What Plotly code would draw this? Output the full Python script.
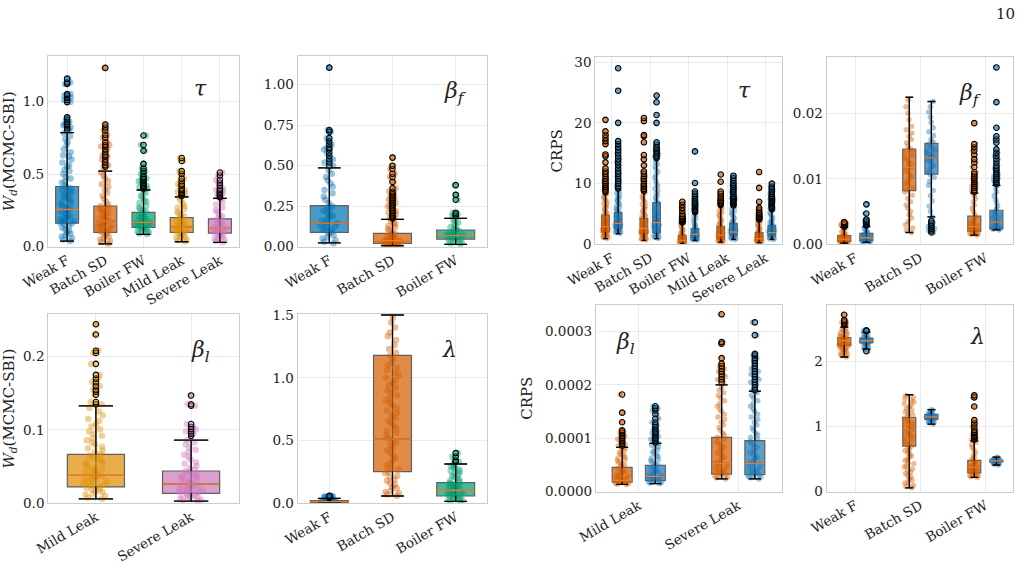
import plotly.graph_objects as go

W, H = 1024, 564
FONT = "DejaVu Serif"

# ---------------- colours ----------------
C_WEAK, C_BATCH, C_BOILER, C_MILD, C_SEVERE = "#0173b2", "#d55e00", "#029e73", "#de8f05", "#cc78bc"
C_A, C_B = "#d55e00", "#1f77b4"
MEDIAN_COLOR = "#ee7d22"

# ---------------- panel 1 : tau, W_d ----------------
P1_CATS = ["Weak F", "Batch SD", "Boiler FW", "Mild Leak", "Severe Leak"]
P1_LO = [0.039, 0.02, 0.085, 0.034, 0.03]
P1_Q1 = [0.162, 0.098, 0.133, 0.098, 0.094]
P1_MED = [0.256, 0.176, 0.167, 0.137, 0.126]
P1_Q3 = [0.414, 0.28, 0.236, 0.2, 0.192]
P1_HI = [0.785, 0.52, 0.39, 0.343, 0.332]
P1_OUT = [
    [0.805, 0.82, 0.835, 0.845, 0.86, 0.875, 0.89, 0.995, 1.01, 1.025, 1.04, 1.05, 1.12, 1.13, 1.156],
    [0.55, 0.56, 0.58, 0.6, 0.62, 0.63, 0.65, 0.67, 0.69, 0.7, 0.72, 0.75, 0.77, 0.8, 0.82, 0.84, 1.23],
    [0.4, 0.41, 0.42, 0.43, 0.44, 0.45, 0.46, 0.47, 0.48, 0.5, 0.52, 0.54, 0.57, 0.66, 0.70, 0.765],
    [0.35, 0.36, 0.37, 0.38, 0.39, 0.4, 0.42, 0.43, 0.45, 0.47, 0.5, 0.52, 0.59, 0.61],
    [0.34, 0.35, 0.36, 0.37, 0.38, 0.39, 0.4, 0.42, 0.44, 0.46, 0.49, 0.51],
]
P1_PTS = [
    [0.04, 0.05, 0.06, 0.07, 0.08, 0.09, 0.1, 0.11, 0.12, 0.13, 0.14, 0.15, 0.16, 0.165, 0.17, 0.175, 0.18, 0.19,
     0.2, 0.205, 0.21, 0.22, 0.23, 0.24, 0.25, 0.255, 0.26, 0.27, 0.28, 0.29, 0.3, 0.31, 0.32, 0.33, 0.34, 0.35,
     0.36, 0.37, 0.38, 0.39, 0.4, 0.41, 0.42, 0.44, 0.45, 0.47, 0.48, 0.5, 0.52, 0.53, 0.55, 0.56, 0.58, 0.6,
     0.62, 0.63, 0.65, 0.67, 0.7, 0.72, 0.74, 0.76, 0.78],
    [0.02, 0.03, 0.04, 0.05, 0.06, 0.07, 0.08, 0.09, 0.1, 0.105, 0.11, 0.12, 0.125, 0.13, 0.14, 0.145, 0.15,
     0.16, 0.165, 0.17, 0.18, 0.185, 0.19, 0.2, 0.21, 0.22, 0.23, 0.24, 0.25, 0.26, 0.27, 0.28, 0.29, 0.31,
     0.33, 0.35, 0.37, 0.39, 0.41, 0.43, 0.45, 0.47, 0.49, 0.51],
    [0.085, 0.09, 0.1, 0.105, 0.11, 0.115, 0.12, 0.125, 0.13, 0.135, 0.14, 0.145, 0.15, 0.155, 0.16, 0.165,
     0.17, 0.175, 0.18, 0.185, 0.19, 0.2, 0.205, 0.21, 0.22, 0.23, 0.24, 0.25, 0.26, 0.27, 0.28, 0.3, 0.31,
     0.32, 0.34, 0.35, 0.37, 0.38],
    [0.035, 0.045, 0.05, 0.06, 0.065, 0.07, 0.08, 0.085, 0.09, 0.1, 0.105, 0.11, 0.115, 0.12, 0.125, 0.13,
     0.135, 0.14, 0.145, 0.15, 0.16, 0.165, 0.17, 0.18, 0.19, 0.2, 0.21, 0.22, 0.23, 0.24, 0.26, 0.27, 0.28,
     0.3, 0.32, 0.34],
    [0.03, 0.04, 0.045, 0.055, 0.06, 0.07, 0.075, 0.08, 0.09, 0.095, 0.1, 0.105, 0.11, 0.115, 0.12, 0.125,
     0.13, 0.135, 0.14, 0.15, 0.155, 0.16, 0.17, 0.18, 0.19, 0.2, 0.21, 0.22, 0.24, 0.25, 0.27, 0.29, 0.31, 0.33],
]
P1_COLORS = [C_WEAK, C_BATCH, C_BOILER, C_MILD, C_SEVERE]
P1_YTICKS = [0.0, 0.5, 1.0]
P1_YLABELS = ["0.0", "0.5", "1.0"]

# ---------------- panel 2 : beta_f, W_d ----------------
P2_CATS = ["Weak F", "Batch SD", "Boiler FW"]
P2_LO = [0.023, 0.006, 0.014]
P2_Q1 = [0.088, 0.02, 0.047]
P2_MED = [0.146, 0.037, 0.068]
P2_Q3 = [0.253, 0.082, 0.103]
P2_HI = [0.486, 0.169, 0.175]
P2_OUT = [
    [0.5, 0.52, 0.54, 0.56, 0.58, 0.6, 0.61, 0.63, 0.65, 0.67, 0.71, 0.72, 1.105],
    [0.175, 0.18, 0.19, 0.2, 0.21, 0.22, 0.23, 0.24, 0.25, 0.26, 0.27, 0.28, 0.29, 0.3, 0.31, 0.32, 0.33, 0.34,
     0.36, 0.4, 0.43, 0.45, 0.48, 0.5, 0.55],
    [0.19, 0.2, 0.21, 0.29, 0.32, 0.38],
]
P2_PTS = [
    [0.02, 0.03, 0.04, 0.05, 0.06, 0.07, 0.08, 0.09, 0.1, 0.105, 0.11, 0.12, 0.125, 0.13, 0.14, 0.145, 0.15,
     0.16, 0.17, 0.18, 0.19, 0.2, 0.21, 0.22, 0.23, 0.24, 0.25, 0.27, 0.29, 0.31, 0.33, 0.35, 0.37, 0.39, 0.41,
     0.43, 0.45, 0.47],
    [0.005, 0.008, 0.01, 0.012, 0.014, 0.015, 0.017, 0.018, 0.02, 0.022, 0.024, 0.025, 0.027, 0.03, 0.033,
     0.035, 0.037, 0.04, 0.043, 0.045, 0.05, 0.055, 0.06, 0.065, 0.07, 0.075, 0.08, 0.09, 0.1, 0.11, 0.12,
     0.13, 0.14, 0.15, 0.16],
    [0.015, 0.02, 0.025, 0.03, 0.035, 0.04, 0.045, 0.05, 0.053, 0.055, 0.06, 0.063, 0.065, 0.07, 0.073, 0.075,
     0.08, 0.085, 0.09, 0.095, 0.1, 0.105, 0.11, 0.12, 0.13, 0.14, 0.15, 0.16, 0.17],
]
P2_COLORS = [C_WEAK, C_BATCH, C_BOILER]
P2_YTICKS = [0.0, 0.25, 0.5, 0.75, 1.0]
P2_YLABELS = ["0.00", "0.25", "0.50", "0.75", "1.00"]

# ---------------- panel 3 : tau, CRPS (orange = A, blue = B) ----------------
P3_CATS = ["Weak F", "Batch SD", "Boiler FW", "Mild Leak", "Severe Leak"]
P3A_LO = [0.93, 0.66, 0.1, 0.38, 0.27]
P3A_Q1 = [2.03, 1.76, 0.38, 0.9, 0.66]
P3A_MED = [2.9, 2.6, 0.66, 1.5, 0.93]
P3A_Q3 = [4.78, 4.23, 1.48, 2.97, 1.92]
P3A_HI = [8.35, 8.6, 3.5, 6.4, 4.0]
P3A_OUT = [
    [8.6, 8.9, 9.2, 9.5, 9.8, 10.1, 10.4, 10.8, 11.2, 11.6, 12.0, 12.5, 13.5, 14.5, 14.8, 16.5, 17.0, 17.5, 18.0, 18.6, 20.5],
    [8.8, 9.1, 9.4, 9.7, 10.0, 10.4, 10.8, 11.2, 11.6, 12.0, 13.0, 14.0, 14.7, 16.8, 17.8, 18.0, 20.3, 20.8],
    [3.6, 3.7, 3.8, 3.9, 4.0, 4.1, 4.2, 4.3, 4.5, 4.7, 5.0, 5.5, 6.0, 6.5, 7.0],
    [6.5, 6.7, 6.9, 7.1, 7.3, 7.6, 7.9, 8.3, 8.7, 10.3, 11.5],
    [4.1, 4.2, 4.3, 4.4, 4.5, 4.6, 4.8, 5.0, 5.2, 5.4, 5.7, 6.0, 7.0, 9.3, 11.9],
]
P3A_PTS = [
    [0.95, 1.1, 1.2, 1.3, 1.4, 1.5, 1.6, 1.7, 1.8, 1.9, 2.0, 2.1, 2.2, 2.3, 2.4, 2.5, 2.6, 2.7, 2.8, 2.9, 3.0,
     3.2, 3.4, 3.5, 3.7, 3.8, 4.0, 4.1, 4.3, 4.5, 4.7, 4.9, 5.1, 5.3, 5.6, 5.8, 6.1, 6.3, 6.6, 6.8, 7.1, 7.3,
     7.6, 7.8, 8.1, 8.3],
    [0.7, 0.8, 0.9, 1.0, 1.1, 1.2, 1.3, 1.4, 1.5, 1.6, 1.7, 1.8, 1.9, 2.0, 2.1, 2.2, 2.3, 2.4, 2.5, 2.6, 2.7,
     2.9, 3.0, 3.2, 3.4, 3.5, 3.7, 3.8, 4.0, 4.2, 4.4, 4.6, 4.8, 5.0, 5.3, 5.5, 5.8, 6.0, 6.3, 6.6, 6.9, 7.2,
     7.5, 7.8, 8.2, 8.5],
    [0.1, 0.15, 0.2, 0.25, 0.3, 0.35, 0.4, 0.45, 0.5, 0.55, 0.6, 0.65, 0.7, 0.75, 0.8, 0.9, 1.0, 1.1, 1.2, 1.3,
     1.4, 1.5, 1.6, 1.8, 2.0, 2.2, 2.4, 2.6, 2.9, 3.2, 3.5],
    [0.4, 0.45, 0.5, 0.6, 0.7, 0.8, 0.9, 1.0, 1.1, 1.2, 1.3, 1.4, 1.5, 1.6, 1.7, 1.8, 2.0, 2.1, 2.3, 2.5, 2.7,
     2.9, 3.1, 3.3, 3.5, 3.7, 4.0, 4.3, 4.6, 4.9, 5.2, 5.5, 5.8, 6.1, 6.3],
    [0.3, 0.35, 0.4, 0.5, 0.55, 0.6, 0.65, 0.7, 0.75, 0.8, 0.85, 0.9, 0.95, 1.0, 1.1, 1.2, 1.3, 1.4, 1.5, 1.6,
     1.7, 1.8, 1.9, 2.0, 2.2, 2.4, 2.6, 2.8, 3.0, 3.2, 3.5, 3.7, 4.0],
]
P3B_LO = [1.76, 0.93, 0.66, 0.8, 0.8]
P3B_Q1 = [2.58, 1.92, 1.2, 1.48, 1.37]
P3B_MED = [3.46, 3.57, 1.65, 2.03, 1.92]
P3B_Q3 = [5.22, 6.87, 2.58, 3.46, 3.13]
P3B_HI = [9.0, 14.0, 5.2, 6.2, 5.6]
P3B_OUT = [
    [9.2, 9.6, 10.0, 10.4, 10.8, 11.2, 11.6, 12.0, 12.5, 13.0, 13.5, 14.0, 14.5, 15.0, 15.5, 16.0, 16.5, 17.0, 20.0, 25.3, 29.0],
    [14.2, 14.5, 14.8, 15.1, 15.4, 15.7, 16.0, 16.4, 16.8, 20.0, 21.3, 23.4, 24.5],
    [5.3, 5.5, 5.7, 5.9, 6.1, 6.3, 6.5, 6.7, 6.9, 7.1, 7.4, 7.7, 8.0, 8.3, 8.7, 10.1, 15.3],
    [6.4, 6.6, 6.8, 7.0, 7.2, 7.4, 7.6, 7.8, 8.0, 8.3, 8.6, 8.9, 9.2, 9.5, 9.8, 10.1, 10.5, 10.9, 11.3],
    [5.8, 6.0, 6.2, 6.4, 6.6, 6.8, 7.0, 7.2, 7.4, 7.6, 7.8, 8.0, 8.3, 8.6, 8.9, 9.2, 9.5, 10.0],
]
P3B_PTS = [
    [1.8, 1.9, 2.0, 2.1, 2.2, 2.3, 2.4, 2.5, 2.6, 2.7, 2.8, 2.9, 3.0, 3.1, 3.2, 3.3, 3.4, 3.5, 3.6, 3.8, 4.0,
     4.2, 4.4, 4.6, 4.8, 5.0, 5.2, 5.4, 5.6, 5.8, 6.1, 6.3, 6.6, 6.8, 7.1, 7.3, 7.6, 7.8, 8.1, 8.4, 8.7, 9.0],
    [0.95, 1.1, 1.2, 1.4, 1.5, 1.7, 1.8, 2.0, 2.1, 2.3, 2.4, 2.6, 2.7, 2.9, 3.0, 3.2, 3.3, 3.5, 3.6, 3.8, 3.9,
     4.1, 4.3, 4.5, 4.7, 4.9, 5.1, 5.3, 5.6, 5.8, 6.1, 6.4, 6.7, 7.0, 7.3, 7.7, 8.0, 8.4, 8.8, 9.2, 9.6, 10.0,
     10.5, 11.0, 11.4, 11.9, 12.3, 12.8, 13.2, 13.6, 14.0],
    [0.7, 0.75, 0.8, 0.85, 0.9, 0.95, 1.0, 1.05, 1.1, 1.15, 1.2, 1.25, 1.3, 1.35, 1.4, 1.5, 1.6, 1.7, 1.8, 1.9,
     2.0, 2.1, 2.2, 2.4, 2.6, 2.8, 3.0, 3.3, 3.6, 4.0, 4.3, 4.6, 5.0],
    [0.8, 0.9, 1.0, 1.1, 1.2, 1.3, 1.4, 1.5, 1.6, 1.7, 1.8, 1.9, 2.0, 2.1, 2.2, 2.3, 2.4, 2.5, 2.6, 2.8, 3.0,
     3.2, 3.4, 3.6, 3.8, 4.0, 4.3, 4.6, 4.9, 5.2, 5.5, 5.8, 6.2],
    [0.8, 0.9, 1.0, 1.1, 1.2, 1.3, 1.4, 1.5, 1.6, 1.7, 1.8, 1.9, 2.0, 2.1, 2.2, 2.3, 2.4, 2.5, 2.6, 2.8, 3.0,
     3.2, 3.4, 3.6, 3.8, 4.0, 4.3, 4.6, 4.9, 5.2, 5.6],
]
P3_YTICKS = [0, 10, 20, 30]
P3_YLABELS = ["0", "10", "20", "30"]

# ---------------- panel 4 : beta_f, CRPS ----------------
P4_CATS = ["Weak F", "Batch SD", "Boiler FW"]
P4A_LO = [0.0002, 0.0018, 0.0014]
P4A_Q1 = [0.00046, 0.0082, 0.002]
P4A_MED = [0.0008, 0.0117, 0.0027]
P4A_Q3 = [0.00132, 0.01455, 0.0043]
P4A_HI = [0.0026, 0.02245, 0.0078]
P4A_OUT = [
    [0.0027, 0.0028, 0.0029, 0.003, 0.0031, 0.0032, 0.0033, 0.0034],
    [],
    [0.008, 0.0083, 0.0086, 0.0089, 0.0092, 0.0095, 0.0098, 0.0101, 0.0104, 0.0107, 0.011, 0.0118, 0.0125,
     0.013, 0.0137, 0.0143, 0.0148, 0.0153, 0.0185],
]
P4A_PTS = [
    [0.0002, 0.00025, 0.0003, 0.00035, 0.0004, 0.00045, 0.0005, 0.00055, 0.0006, 0.00065, 0.0007, 0.00075,
     0.0008, 0.00085, 0.0009, 0.001, 0.0011, 0.0012, 0.0013, 0.0014, 0.0015, 0.0016, 0.0017, 0.0019, 0.0021,
     0.0023, 0.0025],
    [0.0018, 0.0022, 0.0025, 0.003, 0.0035, 0.004, 0.0045, 0.005, 0.0055, 0.006, 0.0065, 0.007, 0.0075, 0.008,
     0.0083, 0.0086, 0.009, 0.0093, 0.0096, 0.01, 0.0103, 0.0106, 0.011, 0.0113, 0.0116, 0.012, 0.0123, 0.0126,
     0.013, 0.0133, 0.0136, 0.014, 0.0143, 0.0146, 0.015, 0.0155, 0.016, 0.0165, 0.017, 0.0175, 0.018, 0.019,
     0.02, 0.021, 0.022],
    [0.0014, 0.0015, 0.0016, 0.0017, 0.0018, 0.0019, 0.002, 0.0021, 0.0022, 0.0023, 0.0024, 0.0025, 0.0026,
     0.0027, 0.0028, 0.003, 0.0032, 0.0034, 0.0036, 0.0039, 0.0042, 0.0045, 0.005, 0.0055, 0.006, 0.0065,
     0.007, 0.0075],
]
P4B_LO = [0.0003, 0.0042, 0.0022]
P4B_Q1 = [0.00056, 0.0107, 0.0024]
P4B_MED = [0.001, 0.0132, 0.0034]
P4B_Q3 = [0.00168, 0.0154, 0.0052]
P4B_HI = [0.0027, 0.0218, 0.009]
P4B_OUT = [
    [0.0029, 0.003, 0.0032, 0.0034, 0.0036, 0.0038, 0.0047, 0.0061],
    [0.0018, 0.0021, 0.0024, 0.0027, 0.003, 0.0033, 0.0036],
    [0.0092, 0.0095, 0.0098, 0.0101, 0.0104, 0.0107, 0.011, 0.0113, 0.0116, 0.012, 0.0125, 0.013, 0.0135,
     0.014, 0.0145, 0.0155, 0.016, 0.0165, 0.0178, 0.0217, 0.027],
]
P4B_PTS = [
    [0.0003, 0.00035, 0.0004, 0.00045, 0.0005, 0.00055, 0.0006, 0.00065, 0.0007, 0.00075, 0.0008, 0.0009,
     0.001, 0.0011, 0.0012, 0.0013, 0.0014, 0.0015, 0.0016, 0.0017, 0.0018, 0.002, 0.0022, 0.0024, 0.0026],
    [0.0042, 0.005, 0.0058, 0.0066, 0.0074, 0.0082, 0.009, 0.0096, 0.0102, 0.0106, 0.011, 0.0114, 0.0118,
     0.012, 0.0123, 0.0126, 0.0128, 0.013, 0.0132, 0.0134, 0.0136, 0.0138, 0.014, 0.0142, 0.0144, 0.0146,
     0.0148, 0.015, 0.0153, 0.0156, 0.016, 0.0166, 0.0172, 0.0178, 0.0186, 0.0194, 0.0202, 0.021, 0.0218],
    [0.0022, 0.0023, 0.0024, 0.0025, 0.0026, 0.0027, 0.0028, 0.0029, 0.003, 0.0032, 0.0034, 0.0036, 0.0038,
     0.004, 0.0042, 0.0044, 0.0046, 0.0048, 0.005, 0.0054, 0.0058, 0.0063, 0.0068, 0.0074, 0.008, 0.0086, 0.009],
]
P4_YTICKS = [0.0, 0.01, 0.02]
P4_YLABELS = ["0.00", "0.01", "0.02"]

# ---------------- panel 5 : beta_l, W_d ----------------
P5_CATS = ["Mild Leak", "Severe Leak"]
P5_LO = [0.006, 0.003]
P5_Q1 = [0.0223, 0.0136]
P5_MED = [0.0382, 0.026]
P5_Q3 = [0.0668, 0.044]
P5_HI = [0.1327, 0.086]
P5_OUT = [
    [0.135, 0.138, 0.148, 0.152, 0.155, 0.16, 0.165, 0.17, 0.175, 0.19, 0.205, 0.208, 0.23, 0.244],
    [0.092, 0.095, 0.098, 0.101, 0.104, 0.108, 0.133, 0.135, 0.147],
]
P5_PTS = [
    [0.006, 0.008, 0.01, 0.012, 0.013, 0.015, 0.016, 0.018, 0.019, 0.021, 0.022, 0.024, 0.025, 0.027, 0.028,
     0.03, 0.031, 0.033, 0.034, 0.036, 0.037, 0.039, 0.04, 0.042, 0.043, 0.045, 0.046, 0.048, 0.05, 0.052,
     0.054, 0.056, 0.058, 0.06, 0.062, 0.065, 0.067, 0.07, 0.072, 0.075, 0.077, 0.08, 0.083, 0.086, 0.089,
     0.092, 0.095, 0.098, 0.101, 0.105, 0.108, 0.112, 0.115, 0.12, 0.125, 0.13],
    [0.003, 0.004, 0.005, 0.006, 0.007, 0.008, 0.009, 0.01, 0.011, 0.012, 0.013, 0.014, 0.015, 0.016, 0.017,
     0.018, 0.019, 0.02, 0.021, 0.022, 0.023, 0.024, 0.025, 0.026, 0.027, 0.028, 0.03, 0.031, 0.033, 0.034,
     0.036, 0.037, 0.039, 0.04, 0.042, 0.044, 0.046, 0.048, 0.051, 0.054, 0.056, 0.06, 0.063, 0.066, 0.07,
     0.073, 0.076, 0.08, 0.083, 0.086],
]
P5_COLORS = [C_MILD, C_SEVERE]
P5_YTICKS = [0.0, 0.1, 0.2]
P5_YLABELS = ["0.0", "0.1", "0.2"]

# ---------------- panel 6 : lambda, W_d ----------------
P6_CATS = ["Weak F", "Batch SD", "Boiler FW"]
P6_LO = [0.003, 0.058, 0.016]
P6_Q1 = [0.008, 0.252, 0.058]
P6_MED = [0.013, 0.512, 0.104]
P6_Q3 = [0.021, 1.179, 0.165]
P6_HI = [0.04, 1.5, 0.313]
P6_OUT = [
    [0.042, 0.045, 0.048, 0.05, 0.052, 0.055, 0.058, 0.06],
    [],
    [0.33, 0.34, 0.37, 0.4],
]
P6_PTS = [
    [0.003, 0.004, 0.005, 0.006, 0.007, 0.008, 0.009, 0.01, 0.011, 0.012, 0.013, 0.014, 0.015, 0.016, 0.017,
     0.018, 0.019, 0.021, 0.023, 0.025, 0.027, 0.03, 0.032, 0.034, 0.036, 0.038],
    [0.06, 0.07, 0.08, 0.09, 0.1, 0.12, 0.13, 0.15, 0.16, 0.18, 0.19, 0.21, 0.22, 0.24, 0.25, 0.27, 0.28, 0.3,
     0.32, 0.34, 0.36, 0.38, 0.4, 0.42, 0.44, 0.46, 0.48, 0.5, 0.52, 0.54, 0.56, 0.58, 0.6, 0.62, 0.64, 0.66,
     0.68, 0.7, 0.72, 0.74, 0.76, 0.78, 0.8, 0.82, 0.84, 0.86, 0.88, 0.9, 0.92, 0.94, 0.96, 0.98, 1.0, 1.02,
     1.04, 1.06, 1.08, 1.1, 1.12, 1.15, 1.18, 1.2, 1.23, 1.26, 1.3, 1.33, 1.36, 1.4, 1.44, 1.48],
    [0.016, 0.02, 0.025, 0.03, 0.035, 0.04, 0.045, 0.05, 0.055, 0.06, 0.065, 0.07, 0.075, 0.08, 0.085, 0.09,
     0.095, 0.1, 0.105, 0.11, 0.115, 0.12, 0.125, 0.13, 0.135, 0.14, 0.145, 0.15, 0.155, 0.16, 0.17, 0.18,
     0.19, 0.2, 0.21, 0.22, 0.23, 0.24, 0.25, 0.26, 0.27, 0.28, 0.29, 0.3, 0.31],
]
P6_COLORS = [C_WEAK, C_BATCH, C_BOILER]
P6_YTICKS = [0.0, 0.5, 1.0, 1.5]
P6_YLABELS = ["0.0", "0.5", "1.0", "1.5"]

# ---------------- panel 7 : beta_l, CRPS ----------------
P7_CATS = ["Mild Leak", "Severe Leak"]
P7A_LO = [1.37e-5, 2.4e-5]
P7A_Q1 = [1.8e-5, 3.3e-5]
P7A_MED = [2.1e-5, 5.3e-5]
P7A_Q3 = [4.55e-5, 1.017e-4]
P7A_HI = [8.3e-5, 2.0e-4]
P7A_OUT = [
    [8.6e-5, 8.9e-5, 9.2e-5, 9.5e-5, 9.8e-5, 1.01e-4, 1.04e-4, 1.07e-4, 1.1e-4, 1.13e-4, 1.15e-4, 1.3e-4,
     1.48e-4, 1.82e-4],
    [2.05e-4, 2.1e-4, 2.15e-4, 2.2e-4, 2.25e-4, 2.3e-4, 2.35e-4, 2.4e-4, 2.5e-4, 2.77e-4, 2.8e-4, 3.32e-4],
]
P7A_PTS = [
    [1.3e-5, 1.4e-5, 1.5e-5, 1.6e-5, 1.7e-5, 1.8e-5, 1.9e-5, 2.0e-5, 2.1e-5, 2.2e-5, 2.3e-5, 2.4e-5, 2.5e-5,
     2.7e-5, 2.8e-5, 3.0e-5, 3.1e-5, 3.3e-5, 3.4e-5, 3.6e-5, 3.8e-5, 4.0e-5, 4.2e-5, 4.4e-5, 4.6e-5, 4.8e-5,
     5.0e-5, 5.3e-5, 5.5e-5, 5.8e-5, 6.0e-5, 6.3e-5, 6.5e-5, 6.8e-5, 7.0e-5, 7.3e-5, 7.6e-5, 7.9e-5, 8.2e-5],
    [2.4e-5, 2.6e-5, 2.7e-5, 2.9e-5, 3.0e-5, 3.2e-5, 3.3e-5, 3.5e-5, 3.6e-5, 3.8e-5, 4.0e-5, 4.2e-5, 4.4e-5,
     4.6e-5, 4.8e-5, 5.0e-5, 5.3e-5, 5.5e-5, 5.8e-5, 6.1e-5, 6.4e-5, 6.7e-5, 7.0e-5, 7.3e-5, 7.6e-5, 8.0e-5,
     8.3e-5, 8.7e-5, 9.0e-5, 9.4e-5, 9.8e-5, 1.02e-4, 1.06e-4, 1.1e-4, 1.15e-4, 1.2e-4, 1.25e-4, 1.3e-4,
     1.35e-4, 1.4e-4, 1.45e-4, 1.5e-4, 1.55e-4, 1.6e-4, 1.65e-4, 1.7e-4, 1.75e-4, 1.8e-4, 1.85e-4, 1.9e-4, 1.95e-4],
]
P7B_LO = [1.5e-5, 2.4e-5]
P7B_Q1 = [2.06e-5, 3.18e-5]
P7B_MED = [2.87e-5, 5.3e-5]
P7B_Q3 = [4.93e-5, 9.55e-5]
P7B_HI = [9.05e-5, 1.88e-4]
P7B_OUT = [
    [9.2e-5, 9.5e-5, 9.8e-5, 1.01e-4, 1.04e-4, 1.07e-4, 1.1e-4, 1.13e-4, 1.17e-4, 1.21e-4, 1.25e-4, 1.3e-4,
     1.37e-4, 1.45e-4, 1.52e-4, 1.56e-4, 1.6e-4],
    [1.9e-4, 1.95e-4, 2.0e-4, 2.05e-4, 2.1e-4, 2.15e-4, 2.2e-4, 2.25e-4, 2.3e-4, 2.35e-4, 2.4e-4, 2.45e-4,
     2.5e-4, 2.55e-4, 2.58e-4, 2.93e-4, 3.17e-4],
]
P7B_PTS = [
    [1.5e-5, 1.6e-5, 1.7e-5, 1.8e-5, 1.9e-5, 2.0e-5, 2.1e-5, 2.2e-5, 2.3e-5, 2.4e-5, 2.5e-5, 2.6e-5, 2.7e-5,
     2.8e-5, 2.9e-5, 3.1e-5, 3.2e-5, 3.4e-5, 3.5e-5, 3.7e-5, 3.8e-5, 4.0e-5, 4.2e-5, 4.4e-5, 4.6e-5, 4.8e-5,
     5.0e-5, 5.3e-5, 5.5e-5, 5.8e-5, 6.0e-5, 6.3e-5, 6.6e-5, 6.9e-5, 7.2e-5, 7.5e-5, 7.8e-5, 8.1e-5, 8.4e-5,
     8.7e-5, 9.0e-5],
    [2.4e-5, 2.6e-5, 2.7e-5, 2.9e-5, 3.0e-5, 3.2e-5, 3.3e-5, 3.5e-5, 3.6e-5, 3.8e-5, 4.0e-5, 4.2e-5, 4.4e-5,
     4.6e-5, 4.8e-5, 5.0e-5, 5.3e-5, 5.5e-5, 5.8e-5, 6.1e-5, 6.4e-5, 6.7e-5, 7.0e-5, 7.3e-5, 7.6e-5, 8.0e-5,
     8.3e-5, 8.7e-5, 9.0e-5, 9.4e-5, 9.8e-5, 1.02e-4, 1.06e-4, 1.1e-4, 1.15e-4, 1.2e-4, 1.25e-4, 1.3e-4,
     1.35e-4, 1.4e-4, 1.45e-4, 1.5e-4, 1.55e-4, 1.6e-4, 1.65e-4, 1.7e-4, 1.75e-4, 1.8e-4, 1.85e-4],
]
P7_YTICKS = [0.0, 0.0001, 0.0002, 0.0003]
P7_YLABELS = ["0.0000", "0.0001", "0.0002", "0.0003"]

# ---------------- panel 8 : lambda, CRPS ----------------
P8_CATS = ["Weak F", "Batch SD", "Boiler FW"]
P8A_LO = [2.07, 0.06, 0.22]
P8A_Q1 = [2.25, 0.70, 0.29]
P8A_MED = [2.32, 0.95, 0.375]
P8A_Q3 = [2.37, 1.14, 0.48]
P8A_HI = [2.53, 1.49, 0.78]
P8A_OUT = [
    [2.56, 2.58, 2.6, 2.62, 2.64, 2.72],
    [],
    [0.8, 0.82, 0.84, 0.86, 0.88, 0.9, 0.92, 0.95, 1.0, 1.05, 1.1, 1.31, 1.45, 1.48],
]
P8A_PTS = [
    [2.07, 2.09, 2.1, 2.12, 2.13, 2.15, 2.16, 2.18, 2.19, 2.2, 2.21, 2.22, 2.23, 2.24, 2.25, 2.26, 2.27, 2.28,
     2.29, 2.3, 2.31, 2.32, 2.33, 2.34, 2.35, 2.36, 2.37, 2.38, 2.39, 2.4, 2.42, 2.44, 2.45, 2.47, 2.48, 2.5, 2.52],
    [0.06, 0.08, 0.1, 0.13, 0.15, 0.18, 0.2, 0.23, 0.25, 0.28, 0.3, 0.33, 0.35, 0.38, 0.4, 0.43, 0.45, 0.48, 0.5,
     0.53, 0.55, 0.58, 0.6, 0.63, 0.65, 0.68, 0.7, 0.73, 0.75, 0.78, 0.8, 0.83, 0.85, 0.88, 0.9, 0.93, 0.95,
     0.98, 1.0, 1.03, 1.05, 1.08, 1.1, 1.13, 1.15, 1.18, 1.2, 1.23, 1.25, 1.28, 1.3, 1.33, 1.35, 1.38, 1.4,
     1.43, 1.45, 1.48],
    [0.22, 0.23, 0.24, 0.25, 0.26, 0.27, 0.28, 0.29, 0.3, 0.31, 0.32, 0.33, 0.34, 0.35, 0.36, 0.37, 0.38, 0.39,
     0.4, 0.42, 0.44, 0.46, 0.48, 0.5, 0.53, 0.56, 0.6, 0.64, 0.68, 0.72, 0.76],
]
P8B_LO = [2.19, 1.04, 0.41]
P8B_Q1 = [2.29, 1.11, 0.458]
P8B_MED = [2.32, 1.15, 0.473]
P8B_Q3 = [2.36, 1.19, 0.483]
P8B_HI = [2.45, 1.26, 0.53]
P8B_OUT = [[2.16, 2.47, 2.48], [], []]
P8B_PTS = [
    [2.19, 2.21, 2.22, 2.24, 2.25, 2.26, 2.27, 2.28, 2.29, 2.295, 2.3, 2.305, 2.31, 2.315, 2.32, 2.325, 2.33,
     2.335, 2.34, 2.345, 2.35, 2.36, 2.37, 2.38, 2.39, 2.4, 2.42, 2.43, 2.45],
    [1.04, 1.06, 1.07, 1.08, 1.09, 1.1, 1.11, 1.115, 1.12, 1.125, 1.13, 1.135, 1.14, 1.145, 1.15, 1.155, 1.16,
     1.165, 1.17, 1.175, 1.18, 1.19, 1.2, 1.21, 1.22, 1.23, 1.25, 1.26],
    [0.41, 0.42, 0.43, 0.44, 0.445, 0.45, 0.455, 0.46, 0.463, 0.466, 0.47, 0.473, 0.476, 0.48, 0.483, 0.486,
     0.49, 0.495, 0.5, 0.51, 0.52, 0.53],
]
P8_YTICKS = [0, 1, 2]
P8_YLABELS = ["0", "1", "2"]

# ---------------- helpers ----------------
fig = go.Figure()


def rgba(h, a):
    h = h.lstrip("#")
    return "rgba(%d,%d,%d,%s)" % (int(h[0:2], 16), int(h[2:4], 16), int(h[4:6], 16), a)


def add_box(ax, pos, color, lo, q1, med, q3, hi, out, inner, width, jitter, psize):
    xa = "x" if ax == 1 else "x%d" % ax
    ya = "y" if ax == 1 else "y%d" % ax
    common = dict(xaxis=xa, yaxis=ya, hoverinfo="skip", showlegend=False)
    fig.add_trace(go.Box(x=[pos], q1=[q1], median=[med], q3=[q3], lowerfence=[lo], upperfence=[hi],
                         width=width, fillcolor=rgba(color, 0.72),
                         line=dict(color="#5f5f5f", width=1.2), whiskerwidth=0.6,
                         boxpoints=False, **common))
    pts = inner + out
    fig.add_trace(go.Box(x=[pos] * len(pts), y=pts, boxpoints="all", jitter=jitter, pointpos=0,
                         width=width, fillcolor="rgba(0,0,0,0)",
                         line=dict(width=0, color="rgba(0,0,0,0)"),
                         marker=dict(color=rgba(color, 0.42), size=psize), **common))
    cw = width * 0.6
    fig.add_trace(go.Scatter(x=[pos, pos, None, pos, pos, None, pos - cw / 2, pos + cw / 2, None,
                                pos - cw / 2, pos + cw / 2],
                             y=[lo, q1, None, q3, hi, None, lo, lo, None, hi, hi],
                             mode="lines", line=dict(color="black", width=1.3), **common))
    fig.add_trace(go.Scatter(x=[pos, pos], y=[q1, q3], mode="lines",
                             line=dict(color="rgba(0,0,0,0.35)", width=1.2), **common))
    fig.add_trace(go.Scatter(x=[pos - width / 2, pos + width / 2], y=[med, med], mode="lines",
                             line=dict(color=MEDIAN_COLOR, width=1.3), **common))
    if out:
        fig.add_trace(go.Scatter(x=[pos] * len(out), y=out, mode="markers",
                                 marker=dict(symbol="circle", size=5.5, color=rgba(color, 0.45),
                                             line=dict(color="black", width=1.1)), **common))


def single_panel(ax, cats, lo, q1, med, q3, hi, out, pts, colors, jitter):
    for i in range(len(cats)):
        add_box(ax, i, colors[i], lo[i], q1[i], med[i], q3[i], hi[i], out[i], pts[i], 0.6, jitter, 6.5)


def pair_panel(ax, cats, A, B, off):
    for i in range(len(cats)):
        add_box(ax, i - off, C_A, A[0][i], A[1][i], A[2][i], A[3][i], A[4][i], A[5][i], A[6][i], 0.2, 0.8, 5.5)
        add_box(ax, i + off, C_B, B[0][i], B[1][i], B[2][i], B[3][i], B[4][i], B[5][i], B[6][i], 0.2, 0.8, 5.5)


single_panel(1, P1_CATS, P1_LO, P1_Q1, P1_MED, P1_Q3, P1_HI, P1_OUT, P1_PTS, P1_COLORS, 0.65)
single_panel(2, P2_CATS, P2_LO, P2_Q1, P2_MED, P2_Q3, P2_HI, P2_OUT, P2_PTS, P2_COLORS, 0.5)
pair_panel(3, P3_CATS, (P3A_LO, P3A_Q1, P3A_MED, P3A_Q3, P3A_HI, P3A_OUT, P3A_PTS),
           (P3B_LO, P3B_Q1, P3B_MED, P3B_Q3, P3B_HI, P3B_OUT, P3B_PTS), 0.165)
pair_panel(4, P4_CATS, (P4A_LO, P4A_Q1, P4A_MED, P4A_Q3, P4A_HI, P4A_OUT, P4A_PTS),
           (P4B_LO, P4B_Q1, P4B_MED, P4B_Q3, P4B_HI, P4B_OUT, P4B_PTS), 0.17)
single_panel(5, P5_CATS, P5_LO, P5_Q1, P5_MED, P5_Q3, P5_HI, P5_OUT, P5_PTS, P5_COLORS, 0.45)
single_panel(6, P6_CATS, P6_LO, P6_Q1, P6_MED, P6_Q3, P6_HI, P6_OUT, P6_PTS, P6_COLORS, 0.45)
pair_panel(7, P7_CATS, (P7A_LO, P7A_Q1, P7A_MED, P7A_Q3, P7A_HI, P7A_OUT, P7A_PTS),
           (P7B_LO, P7B_Q1, P7B_MED, P7B_Q3, P7B_HI, P7B_OUT, P7B_PTS), 0.167)
pair_panel(8, P8_CATS, (P8A_LO, P8A_Q1, P8A_MED, P8A_Q3, P8A_HI, P8A_OUT, P8A_PTS),
           (P8B_LO, P8B_Q1, P8B_MED, P8B_Q3, P8B_HI, P8B_OUT, P8B_PTS), 0.17)

# ---------------- layout ----------------
FRAMES = {
    1: (48, 239, 56, 246.7), 2: (297.7, 487.3, 56, 246.7),
    3: (595.3, 782, 57.3, 244.3), 4: (826.7, 1013.3, 57.3, 244.3),
    5: (48.3, 238.7, 314, 503.3), 6: (297.7, 487.3, 314, 503.3),
    7: (596, 782, 304.7, 491.7), 8: (826.7, 1013.3, 304.7, 491.7),
}
XRANGES = {1: [-0.5, 4.5], 2: [-0.5, 2.5], 3: [-0.43, 4.43], 4: [-0.44, 2.43],
           5: [-0.5, 1.5], 6: [-0.5, 2.5], 7: [-0.43, 1.44], 8: [-0.44, 2.43]}
YRANGES = {1: [0, 1.312], 2: [0, 1.177], 3: [0, 30.8], 4: [0, 0.02855],
           5: [0, 0.258], 6: [0, 1.508], 7: [0, 0.00035], 8: [0, 2.874]}
CATS = {1: P1_CATS, 2: P2_CATS, 3: P3_CATS, 4: P4_CATS, 5: P5_CATS, 6: P6_CATS, 7: P7_CATS, 8: P8_CATS}
YT = {1: (P1_YTICKS, P1_YLABELS), 2: (P2_YTICKS, P2_YLABELS), 3: (P3_YTICKS, P3_YLABELS),
      4: (P4_YTICKS, P4_YLABELS), 5: (P5_YTICKS, P5_YLABELS), 6: (P6_YTICKS, P6_YLABELS),
      7: (P7_YTICKS, P7_YLABELS), 8: (P8_YTICKS, P8_YLABELS)}
YTITLES = {1: "<i>W</i><sub><i>d</i></sub>(MCMC-SBI)", 5: "<i>W</i><sub><i>d</i></sub>(MCMC-SBI)",
           3: "CRPS", 7: "CRPS"}

axis_common = dict(showline=True, mirror=True, linecolor="#cccccc", linewidth=1.2,
                   showgrid=True, gridcolor="#ebebeb", gridwidth=1, zeroline=False,
                   ticks="", automargin=False)

layout = dict(width=W, height=H, margin=dict(l=0, r=0, t=0, b=0, pad=0, autoexpand=False),
              paper_bgcolor="white", plot_bgcolor="white", boxmode="overlay",
              font=dict(family=FONT, size=14, color="#222222"), showlegend=False)

for k, (l, r, t, b) in FRAMES.items():
    xk = "xaxis" if k == 1 else "xaxis%d" % k
    yk = "yaxis" if k == 1 else "yaxis%d" % k
    xa = dict(axis_common, domain=[l / W, r / W], range=XRANGES[k],
              tickvals=list(range(len(CATS[k]))), ticktext=CATS[k], tickangle=-30,
              tickfont=dict(family=FONT, size=13.5, color="#222222"),
              anchor="y" if k == 1 else "y%d" % k)
    ya = dict(axis_common, domain=[1 - b / H, 1 - t / H], range=YRANGES[k],
              tickvals=YT[k][0], ticktext=YT[k][1],
              tickfont=dict(family=FONT, size=13.5, color="#222222"),
              anchor="x" if k == 1 else "x%d" % k)
    if k in YTITLES:
        ya["title"] = dict(text=YTITLES[k], font=dict(family=FONT, size=15, color="#222222"), standoff=8)
    layout[xk] = xa
    layout[yk] = ya

fig.update_layout(**layout)

SYMBOLS = [
    (1, "<i>τ</i>", 0.80, 0.83), (2, "<i>β</i><sub><i>f</i></sub>", 0.83, 0.81),
    (3, "<i>τ</i>", 0.80, 0.825), (4, "<i>β</i><sub><i>f</i></sub>", 0.77, 0.80),
    (5, "<i>β</i><sub><i>l</i></sub>", 0.80, 0.80), (6, "<i>λ</i>", 0.80, 0.81),
    (7, "<i>β</i><sub><i>l</i></sub>", 0.16, 0.79), (8, "<i>λ</i>", 0.81, 0.83),
]
for k, txt, fx, fy in SYMBOLS:
    xr = "x domain" if k == 1 else "x%d domain" % k
    yr = "y domain" if k == 1 else "y%d domain" % k
    fig.add_annotation(text=txt, xref=xr, yref=yr, x=fx, y=fy, xanchor="center", yanchor="middle",
                       showarrow=False, font=dict(family=FONT, size=22, color="#222222"))

fig.add_annotation(text="10", xref="paper", yref="paper", x=1005 / W, y=1 - 14 / H,
                   xanchor="center", yanchor="middle", showarrow=False,
                   font=dict(family=FONT, size=15, color="#222222"))

fig.write_html("out.html")
